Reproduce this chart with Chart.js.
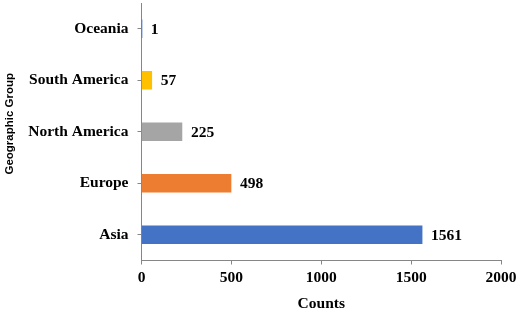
<!DOCTYPE html>
<html>
<head>
<meta charset="utf-8">
<script src="https://cdn.jsdelivr.net/npm/chart.js@4/dist/chart.umd.min.js"></script>
<style>
  html, body { margin: 0; padding: 0; background: #fff; }
  #wrap { width: 520px; height: 313px; }
</style>
</head>
<body>
<div id="wrap"><canvas id="chart"></canvas></div>
<script>
// datos
const groups = ['Oceania', 'South America', 'North America', 'Europe', 'Asia'];
const counts = [1, 57, 225, 498, 1561];
const barColors = ['#4472C4', '#FFC000', '#A5A5A5', '#ED7D31', '#4472C4'];
const xTicks = [0, 500, 1000, 1500, 2000];
const yTitle = 'Geographic Group';

const serif = '"Liberation Serif", "Times New Roman", serif';

//etiquetas al final de cada barra
const valueLabels = {
    id: 'valueLabels',
    afterDatasetsDraw(chart) {
        const { ctx } = chart;
        const meta = chart.getDatasetMeta(0);
        ctx.save();
        ctx.font = 'bold 15.5px ' + serif;
        ctx.fillStyle = '#000';
        ctx.textAlign = 'left';
        ctx.textBaseline = 'middle';
        meta.data.forEach((bar, i) => {
            ctx.fillText(String(counts[i]), bar.x + 9, bar.y + 1);
        });
        ctx.restore();
    }
}

//titulo del eje y, un poco arriba del centro como en el original
const yTitlePlugin = {
    id: 'yTitlePlugin',
    afterDraw(chart) {
        const { ctx, chartArea: { top, bottom } } = chart;
        ctx.save();
        ctx.translate(10, (top + bottom) / 2 - 8);
        ctx.rotate(-Math.PI / 2);
        ctx.font = 'bold 11.5px "Liberation Sans", Arial, sans-serif';
        ctx.fillStyle = '#000';
        ctx.textAlign = 'center';
        ctx.textBaseline = 'middle';
        ctx.fillText(yTitle, 0, 0);
        ctx.restore();
    }
}

//sin padding automatico de las escalas
function noPadding(axis) {
    axis.paddingTop = 0;
    axis.paddingBottom = 0;
    axis.paddingLeft = 0;
    axis.paddingRight = 0;
}

const config = {
    type: 'bar',
    data: {
        labels: groups,
        datasets: [{
            data: counts,
            backgroundColor: barColors,
            borderWidth: 0,
            barThickness: 18
        }]
    },
    options: {
        indexAxis: 'y',
        responsive: true,
        maintainAspectRatio: false,
        animation: false,
        layout: {
            padding: { top: 3, right: 19, left: 0, bottom: 0 }
        },
        scales: {
            x: {
                min: 0,
                max: 2000,
                afterBuildTicks(axis) {
                    axis.ticks = xTicks.map(v => ({ value: v }));
                },
                border: { color: '#868686', width: 1 },
                grid: { drawOnChartArea: false, drawTicks: true, tickLength: 4, color: '#868686' },
                ticks: {
                    color: '#000',
                    padding: 4,
                    maxRotation: 0,
                    callback: (v) => String(v),
                    font: { family: serif, size: 15.5, weight: 'bold' }
                },
                title: {
                    display: true,
                    text: 'Counts',
                    color: '#000',
                    padding: { top: 2, bottom: 0 },
                    font: { family: serif, size: 15.5, weight: 'bold' }
                },
                afterFit(axis) {
                    noPadding(axis);
                    axis.height = 52.5;
                }
            },
            y: {
                border: { color: '#868686', width: 1 },
                grid: { drawOnChartArea: false, drawTicks: true, tickLength: 4, color: '#868686', offset: false },
                ticks: {
                    color: '#000',
                    padding: 9,
                    font: { family: serif, size: 15.5, weight: 'bold' }
                },
                afterFit(axis) {
                    noPadding(axis);
                    axis.width = 141.5;
                }
            }
        },
        plugins: {
            legend: { display: false },
            tooltip: { enabled: false }
        }
    },
    plugins: [valueLabels, yTitlePlugin]
}

var chart = document.getElementById('chart');
var myChart = new Chart(chart, config);
</script>
</body>
</html>
